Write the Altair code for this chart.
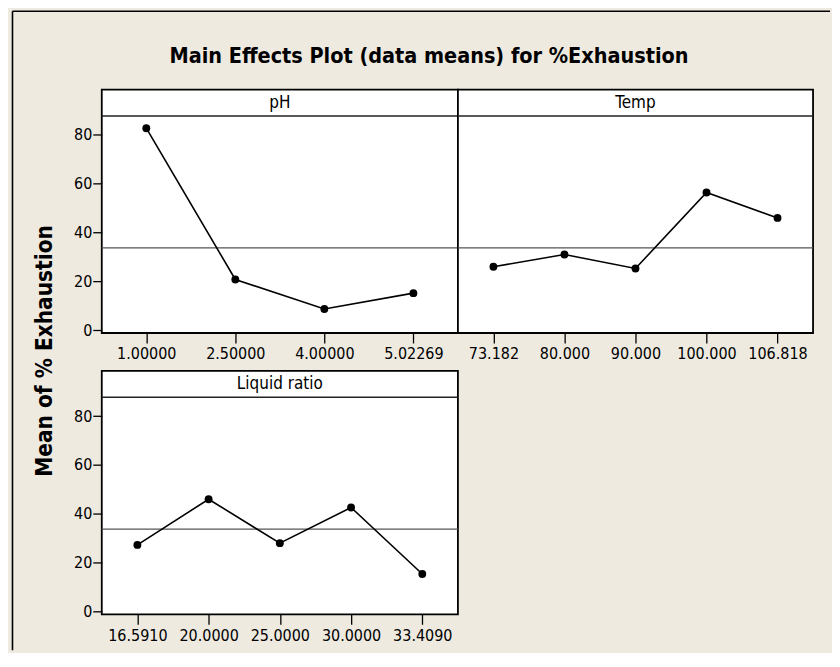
import altair as alt
import pandas as pd

# ---- data ----
ph_levels = ["1.00000", "2.50000", "4.00000", "5.02269"]
ph_means = [82.7, 20.8, 8.7, 15.2]

temp_levels = ["73.182", "80.000", "90.000", "100.000", "106.818"]
temp_means = [26.0, 31.0, 25.3, 56.4, 46.0]

lr_levels = ["16.5910", "20.0000", "25.0000", "30.0000", "33.4090"]
lr_means = [27.3, 46.0, 28.0, 42.6, 15.4]

grand_mean = 33.75
y_ticks = [0, 20, 40, 60, 80]
header_line = 87.7
header_text_y = 93.2

title_text = "Main Effects Plot (data means) for %Exhaustion"
y_title = "Mean of % Exhaustion"

FONT = "DejaVu Sans Condensed, Liberation Sans Narrow, Roboto Condensed, DejaVu Sans, sans-serif"
BEIGE = "#EEEAE0"
W1, W2, H = 357, 356, 244
YDOM = [-1.1, 98.5]


def panel(name, levels, means, width, show_y, first=False):
    df = pd.DataFrame({"level": levels, "mean": means})
    xenc = alt.X("level:N", sort=levels, scale=alt.Scale(type="point", padding=0.5),
                 axis=alt.Axis(title=None, zindex=2))
    yax = alt.Axis(values=y_ticks, title=None, zindex=2) if show_y else None
    yscale = alt.Scale(domain=YDOM, nice=False, zero=False)
    base = alt.Chart(df)
    one = alt.Chart(pd.DataFrame({"k": [0]}))
    layers = []
    if first:
        # figure frame (beige background with left/top border) and white plot area
        layers.append(one.mark_rect(fill=BEIGE).encode(
            x=alt.value(-90), x2=alt.value(730), y=alt.value(-79), y2=alt.value(562)))
        layers.append(one.mark_rule(color="black", strokeWidth=1.6).encode(
            x=alt.value(-89.5), y=alt.value(-78.5), y2=alt.value(562)))
        layers.append(one.mark_rule(color="black", strokeWidth=1.6).encode(
            x=alt.value(-89.5), x2=alt.value(730), y=alt.value(-78.5)))
        layers.append(one.mark_rect(fill="white", stroke="black", strokeWidth=1.8).encode(
            x=alt.value(0), x2=alt.value(width), y=alt.value(0), y2=alt.value(H)))
        layers.append(alt.Chart(pd.DataFrame({"t": [title_text]})).mark_text(
            font=FONT, fontSize=21.5, fontWeight="bold", color="black", baseline="middle",
            align="center").encode(text="t:N", x=alt.value(328), y=alt.value(-32.5)))
        layers.append(alt.Chart(pd.DataFrame({"t": [y_title]})).mark_text(
            font=FONT, fontSize=22.5, fontWeight="bold", color="black", baseline="middle",
            align="center", angle=270).encode(text="t:N", x=alt.value(-57), y=alt.value(262)))
    mean_df = pd.DataFrame({"m": [grand_mean]})
    layers.append(alt.Chart(mean_df).mark_rule(color="#555555", strokeWidth=1.4).encode(
        y=alt.Y("m:Q", scale=yscale, axis=yax)))
    layers.append(alt.Chart(pd.DataFrame({"h": [header_line]})).mark_rule(
        color="#222222", strokeWidth=1.6).encode(y=alt.Y("h:Q", scale=yscale)))
    layers.append(alt.Chart(pd.DataFrame({"n": [name], "hy": [header_text_y]})).mark_text(
        font=FONT, fontSize=17, color="black", baseline="middle", align="center").encode(
        text="n:N", x=alt.value(width / 2), y=alt.Y("hy:Q", scale=yscale)))
    layers.append(base.mark_line(color="black", strokeWidth=1.6).encode(
        x=xenc, y=alt.Y("mean:Q", scale=yscale)))
    layers.append(base.mark_circle(color="black", opacity=1, size=62).encode(
        x=xenc, y=alt.Y("mean:Q", scale=yscale)))
    return alt.layer(*layers).properties(width=width, height=H)


ph = panel("pH", ph_levels, ph_means, W1, True, first=True)
temp = panel("Temp", temp_levels, temp_means, W2, False)
lr = panel("Liquid ratio", lr_levels, lr_means, W1, True)

chart = alt.concat(ph, temp, lr, columns=2, spacing={"row": 38, "column": 0},
                   bounds="flush").properties(
    background=BEIGE,
    padding={"left": 2, "top": 0, "right": 0, "bottom": 0},
).configure_view(
    stroke="black", strokeWidth=1.8, fill="white"
).configure_axis(
    grid=False, domain=False,
    labelFont=FONT, labelFontSize=16, labelColor="black",
    tickColor="black", tickWidth=1.3,
).configure_axisY(
    tickSize=9, labelPadding=1,
).configure_axisX(
    tickSize=10, labelPadding=3, labelAngle=0,
)

chart.save("out.html", embed_options={"renderer": "svg", "actions": False})
